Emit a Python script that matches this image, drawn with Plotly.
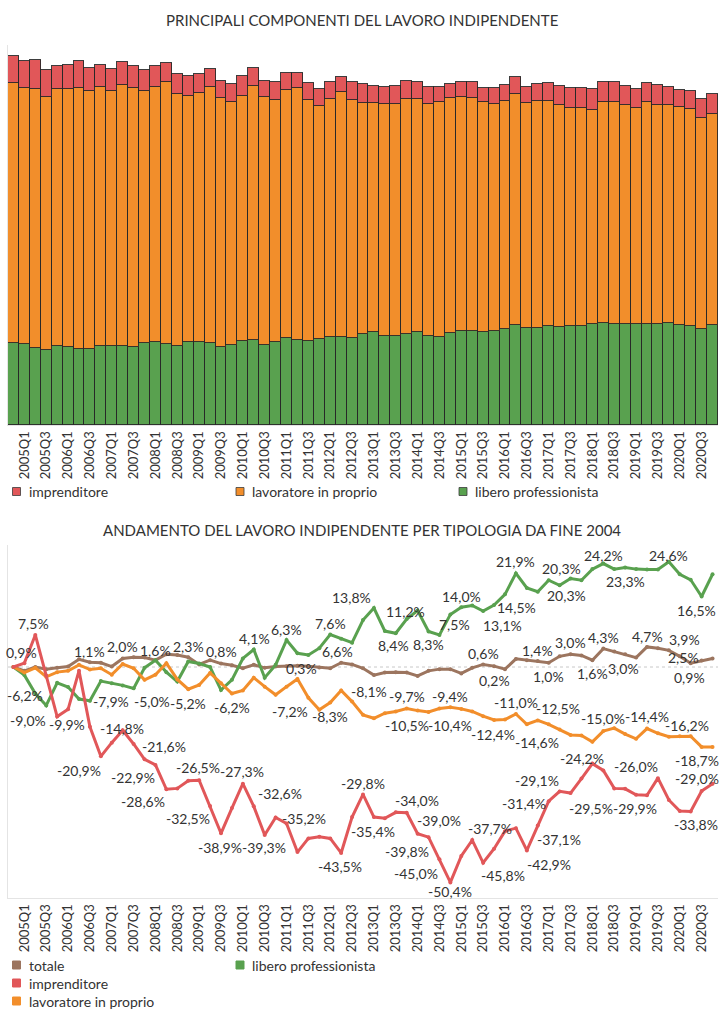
import plotly.graph_objects as go

# ---------------- data ----------------
quarters = ["2004Q4"] + [f"{y}Q{q}" for y in range(2005, 2021) for q in range(1, 5)]
tick_quarters = quarters[1::2]

# variazione % rispetto a fine 2004
totale = [0.0, -0.9, 0.0, -0.5, -0.2, 0.1, 1.8, 1.1, 1.0, 0.1,
          2.0, 2.3, 2.2, 1.6, 3.0, 2.8, 2.3, 0.6, 1.6, 0.8,
          0.4, -0.3, 0.5, -0.2, 0.1, 0.2, 0.3, 0.2, -0.1, -0.3,
          1.0, 0.6, -0.3, -1.9, -1.3, -1.2, -1.3, -2.1, -0.9, -0.5,
          -0.5, -1.5, -0.2, 0.6, 0.2, -0.5, 1.9, 1.6, 1.4, 1.0,
          2.5, 3.0, 2.7, 1.6, 4.3, 3.6, 3.0, 2.2, 4.7, 4.4,
          3.9, 2.5, 0.9, 1.5, 2.0]
imprenditore = [0.0, 0.9, 7.5, -2.0, -11.6, -9.9, -0.9, -14.0, -20.9, -17.7,
                -14.8, -18.0, -21.6, -22.9, -28.6, -28.4, -26.6, -26.5, -32.5, -38.9,
                -33.0, -27.3, -32.6, -39.3, -35.2, -36.6, -43.3, -40.1, -39.7, -40.1,
                -43.5, -35.1, -29.8, -35.1, -35.4, -34.0, -34.1, -39.0, -39.8, -45.0,
                -50.4, -44.2, -40.5, -45.8, -42.5, -38.4, -37.7, -42.9, -37.1, -31.4,
                -29.1, -29.5, -26.1, -22.6, -24.2, -28.4, -28.5, -29.9, -30.0, -26.0,
                -31.1, -33.7, -33.8, -29.0, -27.3]
lavoratore_in_proprio = [0.0, -1.3, -0.2, -2.3, -1.2, -0.9, 0.5, -0.6, -0.3, -1.8,
                         0.7, -0.3, -3.0, -1.8, 0.9, -2.9, -5.2, -4.2, -1.4, -3.8,
                         -6.2, -5.5, -2.5, -4.6, -6.5, -4.6, -2.8, -7.2, -10.0, -8.3,
                         -5.5, -8.1, -11.2, -12.0, -10.8, -10.4, -9.7, -10.2, -10.5, -9.7,
                         -9.4, -9.8, -10.4, -11.5, -12.4, -12.3, -11.0, -13.4, -12.5, -13.4,
                         -14.6, -15.9, -16.0, -17.5, -15.0, -14.3, -15.7, -16.8, -14.4, -15.5,
                         -16.3, -16.2, -16.2, -18.7, -18.7]
libero_professionista = [0.0, -1.9, -6.2, -9.0, -3.7, -4.7, -7.5, -7.9, -3.3, -3.8,
                         -4.3, -5.0, -0.2, 1.6, -1.2, -3.4, 1.3, 0.8, 0.0, -5.4,
                         -3.0, 2.0, 4.1, -2.5, 0.5, 6.3, 3.2, 2.8, 4.4, 7.6,
                         6.6, 5.7, 11.0, 13.8, 8.4, 7.9, 11.2, 13.2, 8.3, 7.5,
                         12.3, 14.0, 14.4, 13.1, 14.5, 17.0, 21.9, 18.5, 17.6, 20.3,
                         19.1, 20.7, 20.3, 22.9, 24.2, 22.9, 23.3, 22.9, 22.8, 22.8,
                         24.6, 21.7, 20.4, 16.5, 21.7]

# livelli di fine 2004 (migliaia)
base_imprenditore = 385
base_lavoratore_in_proprio = 3700
base_libero_professionista = 1170

liv_imprenditore = [base_imprenditore * (1 + v / 100) for v in imprenditore]
liv_lavoratore = [base_lavoratore_in_proprio * (1 + v / 100) for v in lavoratore_in_proprio]
liv_libero = [base_libero_professionista * (1 + v / 100) for v in libero_professionista]

# ---------------- style ----------------
C_RED = "#E15759"
C_ORANGE = "#F28E2B"
C_GREEN = "#59A14F"
C_BROWN = "#9C755F"
FONT = "Lato"
TXT = "#333333"

W, H = 724, 1024
def px_x(p): return p / W
def px_y(p): return 1 - p / H

# label placement (index, dx, dy) in screen px relative to point
label_specs = {
    "totale": [(7, 0, -11), (10, 0, -12), (13, 0, -10), (16, 0, -11), (19, 0, -12), (26, 4, 3),
               (43, 0, -11), (44, 0, 14), (48, 0, -11), (49, 0, 14), (51, 0, -12), (53, 0, 13),
               (54, 0, -11), (56, -2, 14), (58, 0, -10), (60, 16, -11), (61, 4, 1), (62, -1, 14)],
    "imprenditore": [(1, -3, -11), (2, -2, -11), (5, -1, 15), (8, -22, 14), (10, -1, -2), (12, 19, -13),
                     (13, -22, 13), (14, -23, 12), (17, -1, -13), (18, -22, 13), (19, -1, 14), (21, -1, -12),
                     (22, 26, -13), (23, -1, 13), (24, 28, 1), (30, -1, 14), (32, 0, -11), (34, -12, 13),
                     (35, 21, -12), (37, 21, -13), (38, -22, 14), (39, -23, 14), (40, 0, 9), (43, 20, 13),
                     (46, -26, 0), (47, 22, 14), (48, 21, 14), (49, -25, 2), (50, -23, -11), (51, 20, 15),
                     (54, -21, -12), (57, -1, 14), (59, -22, -12), (62, 5, 13), (63, -5, -12)],
    "lavoratore in proprio": [(16, 0, 14), (20, 0, 14), (27, -18, 14), (29, 0, 14), (31, 17, -10),
                              (36, 0, -12), (38, -22, 14), (40, 0, -11), (42, -22, 14), (44, -1, 14),
                              (46, 0, -12), (48, 20, -12), (50, -23, 13), (54, 0, -13), (58, 0, -12),
                              (62, -4, -11), (63, -5, 14)],
    "libero professionista": [(2, -10, 2), (3, -18, 15), (7, 21, 1), (11, 18, 13), (22, 1, -11),
                              (25, 0, -11), (29, 0, -11), (30, -4, 13), (33, -22, -11), (34, 9, 14),
                              (36, -1, -8), (38, 0, 13), (39, 15, -10), (41, 0, -11), (43, 19, 14),
                              (44, 22, 2), (46, 0, -12), (49, 13, -12), (52, -15, 15), (54, 0, -8),
                              (56, 0, 14), (60, 0, -6), (63, -5, 14)],
}

def fmt(v):
    return f"{v:.1f}".replace(".", ",") + "%"

fig = go.Figure()

# ---------------- top: stacked bars ----------------
bar_line = dict(color="rgba(40,40,40,0.9)", width=1)
fig.add_trace(go.Bar(x=quarters, y=liv_libero, name="libero professionista",
                     marker=dict(color=C_GREEN, line=bar_line), xaxis="x", yaxis="y", showlegend=False))
fig.add_trace(go.Bar(x=quarters, y=liv_lavoratore, name="lavoratore in proprio",
                     marker=dict(color=C_ORANGE, line=bar_line), xaxis="x", yaxis="y", showlegend=False))
fig.add_trace(go.Bar(x=quarters, y=liv_imprenditore, name="imprenditore",
                     marker=dict(color=C_RED, line=bar_line), xaxis="x", yaxis="y", showlegend=False))

# ---------------- bottom: lines ----------------
series = [("totale", totale, C_BROWN),
          ("libero professionista", libero_professionista, C_GREEN),
          ("lavoratore in proprio", lavoratore_in_proprio, C_ORANGE),
          ("imprenditore", imprenditore, C_RED)]
for name, vals, col in series:
    fig.add_trace(go.Scatter(x=quarters, y=vals, name=name, mode="lines+markers",
                             line=dict(color=col, width=3), marker=dict(color=col, size=4),
                             xaxis="x2", yaxis="y2", showlegend=False))

annotations = []
data_by_name = {n: v for n, v, _ in series}
for name, specs in label_specs.items():
    vals = data_by_name[name]
    for i, dx, dy in specs:
        annotations.append(dict(x=quarters[i], y=vals[i], xref="x2", yref="y2", text=fmt(vals[i]),
                                showarrow=False, xshift=dx, yshift=-dy,
                                font=dict(family=FONT, size=14, color=TXT)))

# titles
annotations.append(dict(x=0.5, y=px_y(20), xref="paper", yref="paper", showarrow=False,
                        text="PRINCIPALI COMPONENTI DEL LAVORO INDIPENDENTE",
                        font=dict(family=FONT, size=15, color=TXT), xanchor="center", yanchor="middle"))
annotations.append(dict(x=0.5, y=px_y(530), xref="paper", yref="paper", showarrow=False,
                        text="ANDAMENTO DEL LAVORO INDIPENDENTE PER TIPOLOGIA DA FINE 2004",
                        font=dict(family=FONT, size=15, color=TXT), xanchor="center", yanchor="middle"))

# legends (swatches + text)
shapes = []
def legend_item(x, y, color, text, border):
    shapes.append(dict(type="rect", xref="paper", yref="paper",
                       x0=px_x(x), x1=px_x(x + 8), y0=px_y(y + 4), y1=px_y(y - 4),
                       fillcolor=color,
                       line=dict(color="rgba(60,60,60,0.8)" if border else color, width=1)))
    annotations.append(dict(x=px_x(x + 14), y=px_y(y), xref="paper", yref="paper", text=text,
                            showarrow=False, xanchor="left", yanchor="middle",
                            font=dict(family=FONT, size=14, color=TXT)))

legend_item(12.5, 491.5, C_RED, "imprenditore", True)
legend_item(236, 491.5, C_ORANGE, "lavoratore in proprio", True)
legend_item(459, 491.5, C_GREEN, "libero professionista", True)
legend_item(12.5, 965, C_BROWN, "totale", False)
legend_item(236, 965, C_GREEN, "libero professionista", False)
legend_item(12.5, 983, C_RED, "imprenditore", False)
legend_item(12.5, 1001, C_ORANGE, "lavoratore in proprio", False)

# dotted zero line
shapes.append(dict(type="line", xref="x2 domain", x0=0, x1=1, yref="y2", y0=0, y1=0,
                   line=dict(color="#c8c8c8", width=1, dash="dot"), layer="below"))

axis_common = dict(showgrid=False, zeroline=False, showline=True, linecolor="#e4e4e4", linewidth=1)

fig.update_layout(
    width=W, height=H, margin=dict(l=0, r=0, t=0, b=0),
    paper_bgcolor="white", plot_bgcolor="white",
    barmode="stack", bargap=0,
    font=dict(family=FONT, color=TXT),
    xaxis=dict(domain=[px_x(8), px_x(718)], type="category", categoryorder="array",
               categoryarray=quarters, tickmode="array", tickvals=tick_quarters,
               ticktext=tick_quarters, tickangle=-90, ticks="",
               tickfont=dict(family=FONT, size=13, color=TXT), anchor="y", **axis_common),
    yaxis=dict(domain=[px_y(425), px_y(45)], range=[0, 5415], showticklabels=False,
               ticks="", anchor="x", **axis_common),
    xaxis2=dict(domain=[px_x(8), px_x(718)], type="category", categoryorder="array",
                categoryarray=quarters, range=[-0.5, 64.5], tickmode="array",
                tickvals=tick_quarters, ticktext=tick_quarters, tickangle=-90, ticks="",
                tickfont=dict(family=FONT, size=13, color=TXT), anchor="y2", **axis_common),
    yaxis2=dict(domain=[px_y(898), px_y(545)], range=[-54.04, 28.54], showticklabels=False,
                ticks="", anchor="x2", **axis_common),
    annotations=annotations,
    shapes=shapes,
    showlegend=False,
)

fig.write_html("out.html")
